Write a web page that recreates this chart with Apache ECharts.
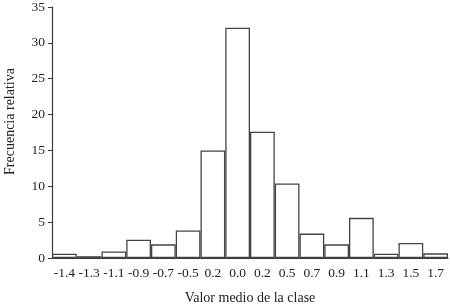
<!DOCTYPE html>
<html>
<head>
<meta charset="utf-8">
<script src="https://cdn.jsdelivr.net/npm/echarts@6/dist/echarts.min.js"></script>
<style>
  html, body { margin: 0; padding: 0; background: #fff; }
  #main { width: 450px; height: 304px; }
</style>
</head>
<body>
<div id="main"></div>
<script>
"use strict";

// 类中点 (as printed on the axis)
let clases = ['-1.4', '-1.3', '-1.1', '-0.9', '-0.7', '-0.5', '0.2', '0.0',
  '0.2', '0.5', '0.7', '0.9', '1.1', '1.3', '1.5', '1.7'];
// frecuencia relativa (%)
let frecuencia = [0.6, 0.25, 0.9, 2.55, 1.9, 3.85, 15.0, 32.1,
  17.6, 10.4, 3.4, 1.9, 5.6, 0.6, 2.1, 0.65];

let fontFam = '"Liberation Serif", "DejaVu Serif", serif';
let ink = '#3a3a3a';

let myChart = echarts.init(document.getElementById('main'));

let option = {
  animation: false,
  textStyle: { fontFamily: fontFam },
  grid: { left: 52, right: 2, top: 7, bottom: 46, outerBoundsMode: 'none' },
  xAxis: {
    type: 'category',
    data: clases,
    boundaryGap: true,
    name: 'Valor medio de la clase',
    nameLocation: 'middle',
    nameGap: 33,
    nameTextStyle: { fontSize: 14, color: '#222', fontFamily: fontFam },
    axisLine: { lineStyle: { color: ink, width: 1.2 } },
    axisTick: { alignWithLabel: true, length: 3, lineStyle: { color: ink } },
    axisLabel: { color: '#222', fontSize: 13.5, margin: 8, interval: 0, fontFamily: fontFam },
  },
  yAxis: {
    type: 'value',
    min: 0,
    max: 35,
    interval: 5,
    name: 'Frecuencia relativa',
    nameLocation: 'middle',
    nameGap: 35,
    nameTextStyle: { fontSize: 14, color: '#222', fontFamily: fontFam, padding: [0, 0, 0, 22] },
    axisLine: { show: true, lineStyle: { color: ink, width: 1.2 } },
    axisTick: { show: true, length: 4, lineStyle: { color: ink } },
    splitLine: { show: false },
    axisLabel: { color: '#222', fontSize: 13.5, margin: 7, fontFamily: fontFam },
  },
  series: [
    {
      type: 'bar',
      data: frecuencia,
      barWidth: '100%',
      barCategoryGap: 0,
      itemStyle: {
        color: '#ffffff',
        borderColor: '#444',
        borderWidth: 1.3,
      },
    },
  ],
};

myChart.setOption(option);
</script>
</body>
</html>
